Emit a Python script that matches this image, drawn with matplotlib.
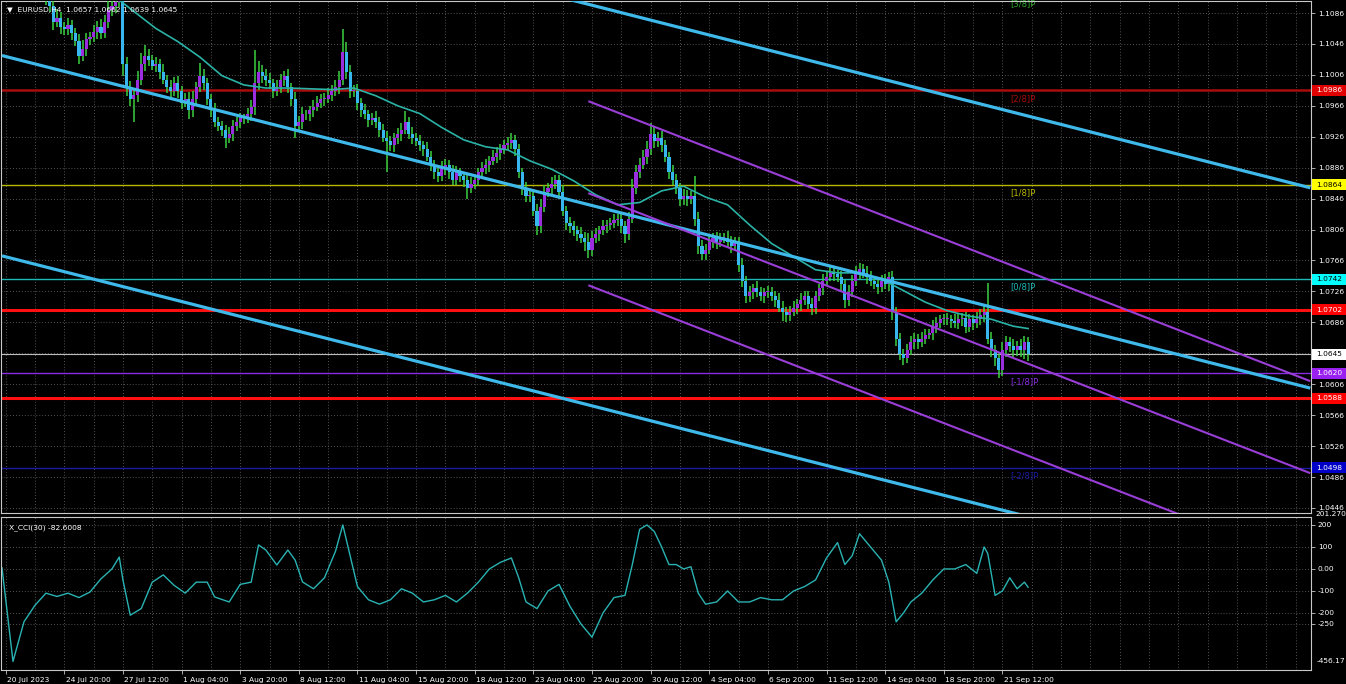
import numpy as np
import matplotlib.pyplot as plt
import matplotlib.transforms as mtransforms
from matplotlib.patches import Rectangle

# ---- H4 bars, 20 Jul 2023 00:00 .. 22 Sep 2023 16:00 (6 bars per day) ----
closes = [
    1.1200, 1.1190, 1.1180, 1.1160, 1.1135, 1.1130,   # 20 Jul
    1.1128, 1.1125, 1.1120, 1.1112, 1.1120, 1.1125,   # 21 Jul
    1.1105, 1.1095, 1.1075, 1.1080, 1.1068, 1.1065,   # 24 Jul
    1.1070, 1.1060, 1.1050, 1.1030, 1.1040, 1.1052,   # 25 Jul
    1.1055, 1.1062, 1.1068, 1.1060, 1.1075, 1.1090,   # 26 Jul
    1.1095, 1.1100, 1.1115, 1.1020, 1.0990, 1.0975,   # 27 Jul
    1.0980, 1.1000, 1.1020, 1.1030, 1.1025, 1.1018,   # 28 Jul
    1.1020, 1.1010, 1.1000, 1.0990, 1.0985, 1.0995,   # 31 Jul
    1.0985, 1.0970, 1.0975, 1.0960, 1.0975, 1.0990,   # 1 Aug
    1.1005, 1.0995, 1.0975, 1.0960, 1.0945, 1.0940,   # 2 Aug
    1.0935, 1.0925, 1.0930, 1.0940, 1.0945, 1.0950,   # 3 Aug
    1.0950, 1.0955, 1.0965, 1.0995, 1.1010, 1.1005,   # 4 Aug
    1.1000, 1.0995, 1.0985, 1.0990, 1.1000, 1.1005,   # 7 Aug
    1.0990, 1.0975, 1.0940, 1.0945, 1.0955, 1.0955,   # 8 Aug
    1.0960, 1.0965, 1.0970, 1.0975, 1.0975, 1.0980,   # 9 Aug
    1.0985, 1.0990, 1.1000, 1.1035, 1.1010, 1.0985,   # 10 Aug
    1.0985, 1.0970, 1.0960, 1.0955, 1.0948, 1.0950,   # 11 Aug
    1.0945, 1.0935, 1.0925, 1.0920, 1.0915, 1.0925,   # 14 Aug
    1.0930, 1.0935, 1.0945, 1.0930, 1.0925, 1.0920,   # 15 Aug
    1.0915, 1.0910, 1.0900, 1.0890, 1.0880, 1.0875,   # 16 Aug
    1.0885, 1.0890, 1.0880, 1.0870, 1.0880, 1.0875,   # 17 Aug
    1.0870, 1.0860, 1.0865, 1.0870, 1.0880, 1.0885,   # 18 Aug
    1.0890, 1.0895, 1.0900, 1.0905, 1.0910, 1.0915,   # 21 Aug
    1.0918, 1.0922, 1.0910, 1.0880, 1.0860, 1.0850,   # 22 Aug
    1.0850, 1.0830, 1.0810, 1.0835, 1.0855, 1.0860,   # 23 Aug
    1.0865, 1.0870, 1.0855, 1.0830, 1.0815, 1.0810,   # 24 Aug
    1.0805, 1.0800, 1.0795, 1.0790, 1.0780, 1.0795,   # 25 Aug
    1.0800, 1.0805, 1.0810, 1.0812, 1.0815, 1.0818,   # 28 Aug
    1.0820, 1.0810, 1.0800, 1.0820, 1.0860, 1.0880,   # 29 Aug
    1.0890, 1.0900, 1.0910, 1.0930, 1.0920, 1.0925,   # 30 Aug
    1.0915, 1.0900, 1.0880, 1.0870, 1.0860, 1.0845,   # 31 Aug
    1.0850, 1.0845, 1.0850, 1.0820, 1.0785, 1.0775,   # 1 Sep
    1.0780, 1.0790, 1.0795, 1.0790, 1.0795, 1.0795,   # 4 Sep
    1.0790, 1.0785, 1.0790, 1.0760, 1.0740, 1.0720,   # 5 Sep
    1.0725, 1.0730, 1.0725, 1.0720, 1.0725, 1.0725,   # 6 Sep
    1.0720, 1.0715, 1.0705, 1.0700, 1.0695, 1.0700,   # 7 Sep
    1.0705, 1.0710, 1.0715, 1.0720, 1.0710, 1.0705,   # 8 Sep
    1.0720, 1.0730, 1.0740, 1.0745, 1.0750, 1.0748,   # 11 Sep
    1.0745, 1.0735, 1.0715, 1.0725, 1.0740, 1.0750,   # 12 Sep
    1.0755, 1.0750, 1.0745, 1.0740, 1.0735, 1.0732,   # 13 Sep
    1.0740, 1.0735, 1.0745, 1.0700, 1.0665, 1.0645,   # 14 Sep
    1.0640, 1.0650, 1.0660, 1.0665, 1.0660, 1.0665,   # 15 Sep
    1.0670, 1.0672, 1.0680, 1.0685, 1.0690, 1.0690,   # 18 Sep
    1.0690, 1.0688, 1.0685, 1.0690, 1.0692, 1.0680,   # 19 Sep
    1.0690, 1.0685, 1.0690, 1.0695, 1.0700, 1.0665,   # 20 Sep
    1.0650, 1.0640, 1.0625, 1.0650, 1.0660, 1.0655,   # 21 Sep
    1.0650, 1.0655, 1.0650, 1.0660, 1.0645,           # 22 Sep
]
first_open = 1.1210

# upper / lower shadows in pips, one row per day
wick_hi = [
    10, 8, 9, 7, 9, 6,  7, 9, 6, 10, 7, 6,  14, 9, 8, 11, 7, 6,  9, 7, 6, 9, 11, 8,
    6, 9, 8, 10, 9, 55,  30, 11, 14, 16, 9, 8,  9, 11, 14, 15, 9, 7,  9, 7, 10, 6, 9, 8,
    9, 6, 8, 9, 10, 7,  17, 9, 7, 6, 9, 6,  7, 6, 9, 8, 6, 7,  6, 8, 9, 43, 14, 9,
    9, 8, 6, 9, 7, 6,  8, 6, 9, 8, 9, 6,  6, 8, 9, 6, 7, 9,  8, 9, 11, 30, 14, 9,
    8, 9, 6, 8, 6, 7,  9, 6, 8, 9, 7, 6,  7, 9, 14, 6, 8, 6,  8, 6, 9, 7, 6, 8,
    9, 7, 6, 9, 8, 6,  6, 8, 9, 7, 6, 8,  7, 6, 9, 8, 6, 7,  8, 9, 6, 7, 6, 8,
    9, 7, 9, 11, 8, 6,  9, 7, 6, 8, 6, 7,  7, 6, 9, 8, 11, 9,  8, 6, 9, 7, 6, 8,
    6, 9, 7, 9, 11, 9,  8, 9, 11, 14, 9, 7,  9, 7, 6, 9, 8, 6,  9, 7, 6, 25, 9, 8,
    7, 9, 6, 8, 6, 7,  9, 8, 6, 7, 9, 6,  8, 6, 9, 7, 6, 8,  7, 6, 9, 8, 6, 7,
    8, 6, 9, 7, 6, 8,  7, 6, 9, 8, 9, 7,  6, 8, 6, 9, 7, 9,  8, 6, 9, 7, 6, 8,
    7, 9, 6, 8, 6, 7,  6, 8, 9, 7, 6, 8,  7, 6, 9, 8, 6, 7,  8, 6, 9, 7, 6, 8,
    7, 6, 9, 8, 7, 37,  9, 7, 6, 11, 9, 7,  9, 7, 9, 8, 7,
]
wick_lo = [
    7, 9, 6, 9, 8, 9,  9, 6, 8, 9, 7, 6,  9, 8, 11, 7, 9, 8,  8, 9, 7, 10, 6, 9,
    7, 6, 9, 8, 6, 9,  8, 9, 6, 15, 11, 9,  30, 9, 7, 9, 8, 6,  8, 9, 6, 8, 9, 6,
    9, 8, 6, 11, 9, 7,  6, 9, 8, 9, 7, 6,  8, 14, 7, 9, 6, 8,  7, 6, 9, 11, 8, 9,
    9, 7, 9, 6, 8, 9,  7, 9, 16, 8, 9, 7,  8, 9, 6, 7, 9, 6,  8, 6, 9, 7, 9, 9,
    7, 9, 8, 6, 9, 7,  8, 9, 6, 40, 7, 9,  8, 9, 6, 7, 9, 6,  7, 9, 6, 8, 9, 7,
    6, 8, 9, 7, 6, 8,  9, 14, 7, 6, 8, 6,  7, 9, 6, 8, 9, 6,  6, 8, 9, 7, 9, 8,
    9, 7, 11, 8, 6, 7,  8, 6, 9, 7, 9, 8,  7, 9, 6, 12, 11, 8,  7, 9, 6, 8, 6, 7,
    8, 9, 11, 7, 6, 8,  7, 6, 9, 8, 9, 7,  9, 7, 9, 6, 8, 9,  7, 9, 6, 9, 11, 9,
    9, 6, 8, 9, 7, 6,  7, 9, 6, 9, 8, 9,  8, 9, 6, 7, 9, 8,  7, 9, 6, 12, 9, 7,
    6, 8, 9, 6, 7, 9,  8, 6, 9, 7, 6, 8,  7, 9, 11, 8, 6, 7,  8, 6, 9, 7, 6, 9,
    7, 6, 9, 11, 9, 8,  9, 7, 6, 9, 8, 6,  7, 6, 9, 8, 6, 7,  8, 9, 6, 7, 9, 8,
    7, 9, 6, 8, 9, 7,  9, 11, 11, 8, 9, 7,  9, 7, 9, 11, 9,
]

# moving average, one value per day
ma_bars = [0, 6, 12, 18, 24, 30, 36, 42, 48, 54, 60, 66, 72, 78, 84, 90, 96, 102,
           108, 114, 120, 126, 132, 138, 144, 150, 156, 162, 168, 174, 180, 186,
           192, 198, 204, 210, 216, 222, 228, 234, 240, 246, 252, 258, 264, 270,
           276, 280]
ma_vals = [1.1195, 1.1180, 1.1165, 1.1148, 1.1132, 1.1110, 1.1088, 1.1066, 1.1049,
           1.1029, 1.1005, 1.0993, 1.0989, 1.0989, 1.0988, 1.0987, 1.0989, 1.0979,
           1.0966, 1.0956, 1.0938, 1.0922, 1.0913, 1.0909, 1.0895, 1.0884, 1.0869,
           1.0851, 1.0838, 1.0841, 1.0856, 1.0862, 1.0848, 1.0838, 1.0812, 1.0788,
           1.0771, 1.0754, 1.0750, 1.0750, 1.0742, 1.0727, 1.0712, 1.0701, 1.0694,
           1.0690, 1.0681, 1.0678]

# CCI(30)
cci_bars = [0, 3, 6, 9, 12, 15, 18, 21, 24, 27, 30, 32, 33, 35, 38, 41, 44, 47, 50,
            53, 56, 58, 62, 65, 68, 70, 72, 75, 78, 80, 82, 85, 88, 91, 93, 95, 97,
            100, 103, 106, 109, 112, 115, 118, 121, 124, 127, 130, 133, 136, 139,
            141, 143, 146, 149, 152, 155, 158, 161, 164, 167, 170, 172, 174, 176,
            178, 180, 182, 184, 186, 188, 190, 192, 195, 198, 201, 204, 207, 210,
            213, 216, 219, 222, 225, 228, 230, 232, 234, 236, 238, 240, 242, 244,
            246, 248, 251, 254, 257, 260, 263, 266, 268, 269, 271, 273, 275, 277,
            279, 280]
cci_vals = [5, -420, -240, -165, -110, -125, -110, -130, -105, -45, 0, 54, -50, -210,
            -180, -60, -27, -75, -110, -60, -60, -127, -150, -70, -60, 109, 86, 18,
            86, 40, -59, -90, -40, 80, 200, 60, -80, -140, -160, -140, -90, -110,
            -150, -140, -120, -150, -110, -60, 0, 30, 50, -40, -150, -180, -100,
            -70, -170, -250, -310, -200, -130, -120, 20, 180, 200, 170, 100, 20, 20,
            0, 10, -110, -160, -150, -100, -150, -150, -130, -140, -140, -100, -80,
            -50, 50, 120, 20, 60, 160, 120, 80, 40, -60, -240, -200, -150, -110, -50,
            0, 0, 20, -20, 100, 70, -120, -100, -40, -90, -60, -83]

price_ticks = [1.1086, 1.1046, 1.1006, 1.0966, 1.0926, 1.0886, 1.0846, 1.0806, 1.0766,
               1.0726, 1.0686, 1.0646, 1.0606, 1.0566, 1.0526, 1.0486, 1.0446]
date_bars = [1, 17, 33, 49, 65, 81, 97, 113, 129, 145, 161, 177, 193, 209, 225, 241, 257, 273]
date_labels = ['20 Jul 2023', '24 Jul 20:00', '27 Jul 12:00', '1 Aug 04:00', '3 Aug 20:00',
               '8 Aug 12:00', '11 Aug 04:00', '15 Aug 20:00', '18 Aug 12:00', '23 Aug 04:00',
               '25 Aug 20:00', '30 Aug 12:00', '4 Sep 04:00', '6 Sep 20:00', '11 Sep 12:00',
               '14 Sep 04:00', '18 Sep 20:00', '21 Sep 12:00']

# Murrey levels
mm_prices = [1.1108, 1.0986, 1.0864, 1.0742, 1.0620, 1.0498]
mm_names = ['[3/8]P', '[2/8]P', '[1/8]P', '[0/8]P', '[-1/8]P', '[-2/8]P']
mm_colors = ['#2fa82f', '#a80c0c', '#b8b800', '#1fb8b8', '#8a2be2', '#1a1aa0']
mm_box = ['#2fa82f', '#e00000', '#ffff00', '#00ffff', '#9a20f0', '#0000c8']
mm_txt = ['black', 'white', 'black', 'black', 'white', 'white']
sr_prices = [1.0702, 1.0588]
bid = 1.0645

# regression channel (light blue) and short channel (violet)
reg_start, reg_end, reg_dev = (0, 1.1031), (357, 1.0601), 0.0259
vio_start, vio_end, vio_dev = (160, 1.0853), (357, 1.0491), 0.0119

cci_ticks = [200, 100, 0, -100, -200, -250]
cci_tick_labels = ['200', '100', '0.00', '-100', '-200', '-250']

# ------------------------------------------------------------------
FS = 5.4
GRID = '#6e6e6e'
FRAME = '#c8c8c8'

closes = np.array(closes)
opens = np.r_[first_open, closes[:-1]]
highs = np.maximum(opens, closes) + np.array(wick_hi) * 1e-4
lows = np.minimum(opens, closes) - np.array(wick_lo) * 1e-4
idx = np.arange(len(closes))

W, H = 1346, 684
fig = plt.figure(figsize=(W / 100, H / 100), dpi=100, facecolor='black')
ax = fig.add_axes([1 / W, 1 - 513 / H, 1310 / W, 512 / H], facecolor='black')
ax2 = fig.add_axes([1 / W, 14 / H, 1310 / W, 153 / H], facecolor='black', sharex=ax)

ax.set_xlim(-0.27, 357.2)
ax.set_ylim(1.043951, 1.110152)

# grid
grid_bars = np.arange(1, 358, 8)
for a in (ax, ax2):
    for b in grid_bars:
        a.axvline(b, color=GRID, lw=0.6, ls=(0, (1, 2.5)), zorder=0)
for p in price_ticks:
    ax.axhline(p, color=GRID, lw=0.6, ls=(0, (1, 2.5)), zorder=0)
for v in cci_ticks:
    ax2.axhline(v, color=GRID, lw=0.6, ls=(0, (1, 2.5)), zorder=0)

# horizontal levels
for p, c in zip(mm_prices, mm_colors):
    ax.axhline(p, color=c, lw=1.8 if c == '#a80c0c' else 1.0, zorder=1)
for p in sr_prices:
    ax.axhline(p, color='#ff1010', lw=2.2, zorder=1)
ax.axhline(bid, color='#bdbdbd', lw=0.8, zorder=1)

for p, n, c in zip(mm_prices, mm_names, mm_colors):
    ax.annotate(n, (275, p), xytext=(0, -2.5), textcoords='offset points',
                color=c, fontsize=6, va='top', ha='left', zorder=2,
                annotation_clip=False)

# candles
up = closes >= opens
ax.vlines(idx, lows, highs, color='#3cd040', lw=1.1, zorder=3)
body = np.where(np.abs(closes - opens) < 0.0001, 0.0001, closes - opens)
ax.bar(idx, body, bottom=opens, width=0.86,
       color=np.where(up, '#9b2fe0', '#38b6ee'), linewidth=0, zorder=4)

# moving average
ax.plot(ma_bars, ma_vals, color='#2ab3a6', lw=1.2, zorder=5)

# channels
for k in (-1, 0, 1):
    ax.plot([reg_start[0], reg_end[0]], [reg_start[1] + k * reg_dev, reg_end[1] + k * reg_dev],
            color='#3fb8ea', lw=2.3, zorder=6, solid_capstyle='butt')
    ax.plot([vio_start[0], vio_end[0]], [vio_start[1] + k * vio_dev, vio_end[1] + k * vio_dev],
            color='#9a3ed8', lw=1.5, zorder=6, solid_capstyle='butt')

# price axis
ax.yaxis.tick_right()
ax.set_yticks(price_ticks)
ax.set_yticklabels(['%.4f' % p for p in price_ticks])
ax.tick_params(axis='y', colors=FRAME, labelcolor='white', labelsize=FS, length=3, width=0.6, pad=2)
ax.tick_params(axis='x', bottom=False, labelbottom=False)

# price boxes on the scale
tr = mtransforms.blended_transform_factory(ax.transAxes, ax.transData)
boxes = list(zip(mm_prices[1:], mm_box[1:], mm_txt[1:])) + \
    [(sr_prices[0], '#ff0000', 'white'), (sr_prices[1], '#ff0000', 'white'), (bid, 'white', 'black')]
bh = 11 / 7734.0
for p, bg, tc in boxes:
    ax.add_patch(Rectangle((1.0008, p - bh / 2), 0.0265, bh, transform=tr, facecolor=bg,
                           edgecolor='none', clip_on=False, zorder=10))
    ax.text(1.0140, p, '%.4f' % p, transform=tr, fontsize=FS, color=tc, va='center',
            ha='center', clip_on=False, zorder=11)

# title
fig.text(7 / W, 1 - 10 / H, '\u25bc  EURUSD,H4  1.0657 1.0662 1.0639 1.0645', color='white',
         fontsize=FS, va='center', ha='left')

# CCI
ax2.plot(cci_bars, cci_vals, color='#2ab3b3', lw=1.0)
ax2.set_ylim(-459, 236)
ax2.yaxis.tick_right()
ax2.set_yticks(cci_ticks)
ax2.set_yticklabels(cci_tick_labels)
ax2.tick_params(axis='y', colors=FRAME, labelcolor='white', labelsize=FS, length=3, width=0.6, pad=2)
fig.text(1315 / W, 1 - 514 / H, '201.270', color='white', fontsize=FS, va='center', ha='left')
ax2.text(1.004, 0.04, '-456.17', transform=ax2.transAxes, color='white', fontsize=FS, va='bottom')
ax2.text(0.006, 0.95, 'X_CCI(30) -82.6008', transform=ax2.transAxes, color='white', fontsize=FS, va='top')

ax2.set_xticks(date_bars)
ax2.set_xticklabels(date_labels, ha='left')
ax2.tick_params(axis='x', colors=FRAME, labelcolor='white', labelsize=FS, length=3, width=0.6, pad=2)
offset = mtransforms.ScaledTranslation(1.5 / 100, 0, fig.dpi_scale_trans)
for lab in ax2.get_xticklabels():
    lab.set_transform(lab.get_transform() + offset)

for a in (ax, ax2):
    for s in a.spines.values():
        s.set_color(FRAME)
        s.set_linewidth(0.8)

fig.savefig('out.png', dpi=100, facecolor='black')
